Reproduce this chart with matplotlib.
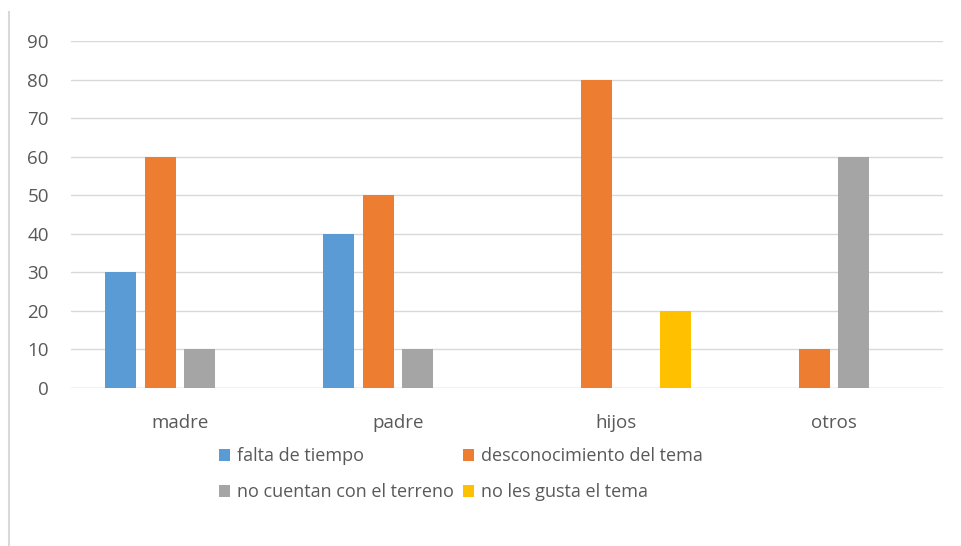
import matplotlib
matplotlib.use("Agg")
import matplotlib.pyplot as plt
from matplotlib.lines import Line2D
import numpy as np

categories = ["madre", "padre", "hijos", "otros"]
series_names = ["falta de tiempo", "desconocimiento del tema",
                "no cuentan con el terreno", "no les gusta el tema"]
falta = [30, 40, 0, 0]
desconoc = [60, 50, 80, 10]
terreno = [10, 10, 0, 60]
gusta = [0, 0, 20, 0]
colors = ["#5B9BD5", "#ED7D31", "#A5A5A5", "#FFC000"]

plt.rcParams['font.family'] = ['Open Sans', 'DejaVu Sans']

fig = plt.figure(figsize=(9.62, 5.46), dpi=100)
ax = fig.add_axes([71/962, 1-388/546, (943-71)/962, (388-41)/546])

x = np.arange(len(categories))
w = 0.142
step = 0.183
allvals = [falta, desconoc, terreno, gusta]
bars = []
for i, vals in enumerate(allvals):
    b = ax.bar(x + (i-1.5)*step, vals, w, color=colors[i], label=series_names[i], zorder=3)
    bars.append(b)

ax.set_xlim(-0.5, 3.5)
ax.set_ylim(0, 90)
ax.set_yticks(range(0, 91, 10))
ax.yaxis.grid(True, color="#D9D9D9", linewidth=1, zorder=0)
for s in ax.spines.values():
    s.set_visible(False)
ax.axhline(0, color="#D9D9D9", linewidth=1, zorder=1)
ax.tick_params(length=0, labelsize=13.5, colors="#595959")
ax.tick_params(axis='y', pad=16)
ax.tick_params(axis='x', pad=19)
ax.set_xticks(x)
ax.set_xticklabels(categories)

# matplotlib fills legend columns first, so reorder to get row-wise order
order = [0, 2, 1, 3]
leg = fig.legend([bars[i] for i in order], [series_names[i] for i in order],
                 loc="upper left", bbox_to_anchor=(203/962, 1-431/546), ncol=2,
                 frameon=False, fontsize=13, handlelength=0.6, handleheight=0.6,
                 handletextpad=0.4, columnspacing=0.5, labelspacing=1.0)
for t in leg.get_texts():
    t.set_color("#595959")

fig.add_artist(Line2D([9/962, 9/962], [0, 1-12/546], color="#D9D9D9", linewidth=1.5))

fig.savefig("out.png", dpi=100)
